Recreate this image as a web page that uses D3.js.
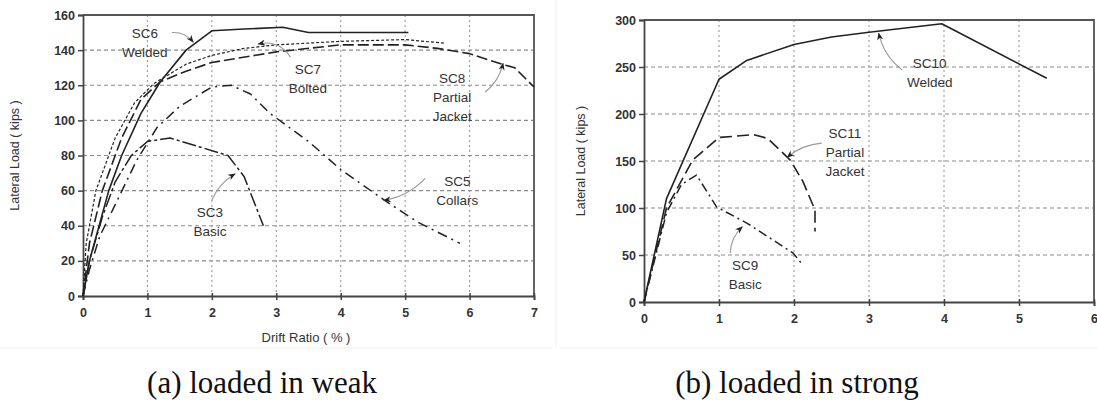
<!DOCTYPE html>
<html>
<head>
<meta charset="utf-8">
<script src="https://cdn.jsdelivr.net/npm/d3@7"></script>
<style>
  body { margin: 0; background: #fff; }
  svg text { font-family: "Liberation Sans", Arial, sans-serif; }
</style>
</head>
<body>
<div id="chart"></div>
<script>
// ---- data: [drift %, lateral load kips] ----
const weakXTicks = [0, 1, 2, 3, 4, 5, 6, 7];
const weakYTicks = [0, 20, 40, 60, 80, 100, 120, 140, 160];
const strongXTicks = [0, 1, 2, 3, 4, 5, 6];
const strongYTicks = [0, 50, 100, 150, 200, 250, 300];

const sc6 = [[0,0],[0.1,20],[0.4,60],[0.6,80],[0.9,104],[1.2,122],[1.6,140],[2.0,151],[2.5,152],[3.1,153],[3.5,150],[5.05,150]];
const sc7 = [[0,0],[0.05,30],[0.2,60],[0.5,90],[0.8,110],[1.1,121],[1.6,132],[2.0,137],[2.5,141],[3.0,143],[4.0,145],[5.0,146],[5.6,144]];
const sc8 = [[0,0],[0.1,30],[0.3,60],[0.6,90],[0.9,112],[1.2,122],[1.6,128],[2.0,133],[3.0,139],[4.0,143],[5.0,143],[5.5,141],[6.0,138],[6.5,132],[6.7,130],[7.0,119]];
const sc5 = [[0,0],[0.1,15],[0.26,34],[0.5,52],[0.83,77],[1.15,96],[1.5,108],[2.0,119],[2.3,120],[2.6,115],[2.9,104],[3.5,88],[4.0,72],[4.7,54],[5.2,42],[5.85,30]];
const sc3 = [[0,0],[0.1,20],[0.3,45],[0.5,65],[0.75,80],[1.0,88],[1.35,90],[1.8,85],[2.25,80],[2.5,68],[2.8,40]];

const sc10 = [[0,0],[0.3,110],[1.0,237],[1.37,257],[2.0,274],[2.5,282],[3.0,287],[3.97,296],[5.37,238]];
const sc11 = [[0,0],[0.3,100],[0.65,151],[1.0,175],[1.46,178],[1.65,174],[1.95,151],[2.12,128],[2.28,98],[2.28,75]];
const sc9 = [[0,0],[0.3,95],[0.5,125],[0.7,135],[0.97,101],[1.37,84],[1.99,52],[2.12,39]];

const weakLabels = [
  { lines: ["SC6", "Welded"], x: 0.96, y: 150, from: [1.38, 150], to: [1.71, 144.6], bend: -6 },
  { lines: ["SC7", "Bolted"], x: 3.49, y: 129, from: [3.22, 136], to: [2.72, 143.5], bend: 12 },
  { lines: ["SC8", "Partial", "Jacket"], x: 5.73, y: 124, from: [6.24, 116], to: [6.52, 132.5], bend: 6 },
  { lines: ["SC5", "Collars"], x: 5.81, y: 65.5, from: [5.31, 67], to: [4.67, 54.5], bend: -8 },
  { lines: ["SC3", "Basic"], x: 1.97, y: 48, from: [2.0, 54.5], to: [2.36, 69.5], bend: -6 }
];
const strongLabels = [
  { lines: ["SC10", "Welded"], x: 3.81, y: 254, from: [3.44, 247], to: [3.13, 286], bend: -8 },
  { lines: ["SC11", "Partial", "Jacket"], x: 2.68, y: 180, from: [2.37, 169], to: [1.91, 154], bend: 6 },
  { lines: ["SC9", "Basic"], x: 1.35, y: 39, from: [1.15, 52], to: [1.31, 80], bend: -6 }
];

const W = 1097, H = 400;
const svg = d3.select('#chart').append('svg').attr('width', W).attr('height', H);

const defs = svg.append('defs');
defs.append('marker')
  .attr('id', 'arr').attr('viewBox', '0 0 10 10')
  .attr('refX', 9).attr('refY', 5)
  .attr('markerWidth', 7).attr('markerHeight', 7)
  .attr('orient', 'auto-start-reverse')
  .append('path').attr('d', 'M0,1 L10,5 L0,9 L3,5 Z').attr('fill', '#222');

// faint panel frames
svg.append('line').attr('x1', 0).attr('x2', 552).attr('y1', 348).attr('y2', 348).attr('stroke', '#eee');
svg.append('line').attr('x1', 560).attr('x2', W).attr('y1', 348).attr('y2', 348).attr('stroke', '#eee');
svg.append('line').attr('x1', 556).attr('x2', 556).attr('y1', 0).attr('y2', 348).attr('stroke', '#f2f2f2');

function panel(opt) {
  const x = d3.scaleLinear().domain(opt.xDomain).range([opt.left, opt.right]);
  const y = d3.scaleLinear().domain(opt.yDomain).range([opt.bottom, opt.top]);
  const g = svg.append('g');

  // grid
  g.append('g').selectAll('line').data(opt.yTicks.slice(1, -1)).join('line')
    .attr('x1', opt.left).attr('x2', opt.right)
    .attr('y1', d => y(d)).attr('y2', d => y(d))
    .attr('stroke', '#8a8a8a').attr('stroke-width', 1.1).attr('stroke-dasharray', '4,3');
  g.append('g').selectAll('line').data(opt.xTicks.slice(1, -1)).join('line')
    .attr('x1', d => x(d)).attr('x2', d => x(d))
    .attr('y1', opt.top).attr('y2', opt.bottom)
    .attr('stroke', '#9a9a9a').attr('stroke-width', 1.1).attr('stroke-dasharray', '2,3');

  // frame (top + right)
  g.append('path')
    .attr('d', `M${opt.left},${opt.top}H${opt.right}V${opt.bottom}`)
    .attr('fill', 'none').attr('stroke', '#555').attr('stroke-width', 1.8);

  const ax = g.append('g').attr('transform', `translate(0,${opt.bottom})`)
    .call(d3.axisBottom(x).tickValues(opt.xTicks).tickSize(4).tickPadding(8).tickFormat(d3.format('d')));
  const ay = g.append('g').attr('transform', `translate(${opt.left},0)`)
    .call(d3.axisLeft(y).tickValues(opt.yTicks).tickSize(5).tickPadding(3).tickFormat(d3.format('d')));
  [ax, ay].forEach(a => {
    a.select('.domain').attr('stroke', '#444').attr('stroke-width', 1.8);
    a.selectAll('.tick line').attr('stroke', '#444').attr('stroke-width', 1.5);
    a.selectAll('.tick text').attr('fill', '#333').style('font-size', '12.5px').style('font-weight', 'bold');
  });
  ax.selectAll('.tick line').attr('y1', -3);

  // y title
  g.append('text')
    .attr('transform', `translate(${opt.yTitleX},${(opt.top + opt.bottom) / 2}) rotate(-90)`)
    .attr('text-anchor', 'middle').attr('fill', '#333')
    .style('font-size', '12.5px')
    .text('Lateral Load  ( kips )');

  const line = d3.line().x(d => x(d[0])).y(d => y(d[1]));
  opt.series.forEach(s => {
    g.append('path').datum(s.data)
      .attr('d', line).attr('fill', 'none')
      .attr('stroke', '#222').attr('stroke-width', s.w || 1.5)
      .attr('stroke-dasharray', s.dash || null)
      .attr('stroke-linejoin', 'round');
  });

  opt.labels.forEach(l => {
    const t = g.append('text').attr('text-anchor', 'middle').attr('fill', '#333')
      .style('font-size', '13.5px');
    l.lines.forEach((s, i) => {
      t.append('tspan').attr('x', x(l.x)).attr('y', y(l.y) + 5 + i * 19).text(s);
    });
    const x0 = x(l.from[0]), y0 = y(l.from[1]), x1 = x(l.to[0]), y1 = y(l.to[1]);
    const mx = (x0 + x1) / 2, my = (y0 + y1) / 2;
    const dx = x1 - x0, dy = y1 - y0, len = Math.hypot(dx, dy);
    const cx = mx - dy / len * l.bend, cy = my + dx / len * l.bend;
    g.append('path')
      .attr('d', `M${x0},${y0}Q${cx},${cy} ${x1},${y1}`)
      .attr('fill', 'none').attr('stroke', '#999').attr('stroke-width', 1.1)
      .attr('marker-end', 'url(#arr)');
  });
  return { x, y };
}

panel({
  xDomain: [0, 7], yDomain: [0, 160],
  left: 83, right: 534, top: 15, bottom: 296,
  xTicks: weakXTicks, yTicks: weakYTicks, yTitleX: 19,
  series: [
    { data: sc6, w: 1.6 },
    { data: sc7, w: 1.2, dash: '3,2' },
    { data: sc8, w: 1.6, dash: '11,4' },
    { data: sc5, w: 1.5, dash: '10,5,2,5' },
    { data: sc3, w: 1.5, dash: '14,3,3,3' }
  ],
  labels: weakLabels
});

panel({
  xDomain: [0, 6], yDomain: [0, 300],
  left: 644, right: 1094, top: 20, bottom: 302,
  xTicks: strongXTicks, yTicks: strongYTicks, yTitleX: 585,
  series: [
    { data: sc10, w: 1.6 },
    { data: sc11, w: 1.6, dash: '12,5' },
    { data: sc9, w: 1.5, dash: '9,4,2,4' }
  ],
  labels: strongLabels
});

svg.append('text').attr('x', 306).attr('y', 342).attr('text-anchor', 'middle')
  .attr('fill', '#333').style('font-size', '13px').text('Drift Ratio ( % )');

svg.append('text').attr('x', 262).attr('y', 393).attr('text-anchor', 'middle')
  .style('font-family', '"Liberation Serif", "Times New Roman", serif').style('font-size', '31px')
  .attr('fill', '#111').text('(a) loaded in weak');
svg.append('text').attr('x', 797).attr('y', 393).attr('text-anchor', 'middle')
  .style('font-family', '"Liberation Serif", "Times New Roman", serif').style('font-size', '31px')
  .attr('fill', '#111').text('(b) loaded in strong');
</script>
</body>
</html>
